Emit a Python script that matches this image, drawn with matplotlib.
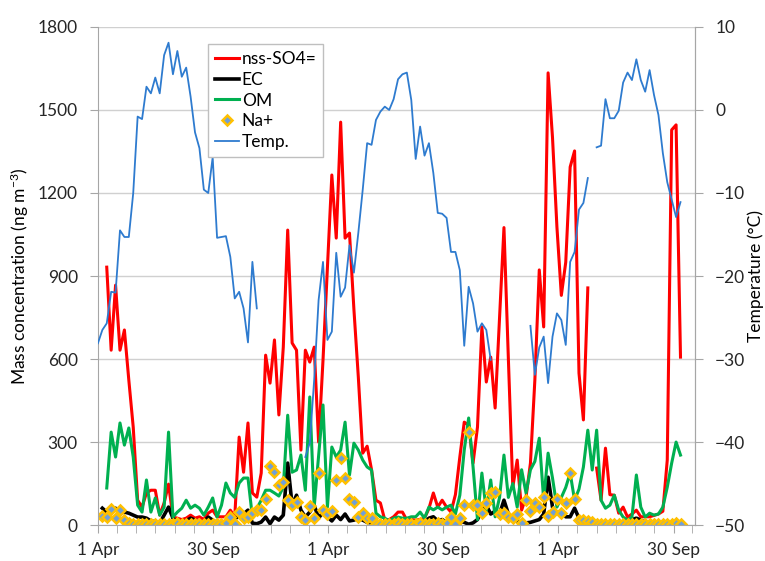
import numpy as np
import matplotlib.pyplot as plt

plt.rcParams['font.family'] = ['Lato', 'DejaVu Sans']
plt.rcParams['mathtext.fontset'] = 'custom'
plt.rcParams['mathtext.rm'] = 'Lato'
plt.rcParams['mathtext.default'] = 'regular'

nan = np.nan

# === Data: weekly samples, week 0 = 1 April of the first year ===
weeks = np.arange(133)
days = weeks * 7

so4 = ([nan, nan,
        932, 632, 867, 632, 705, 524, 354, 90, 65, 116,
        126, 126, 36, 80, 148, 29, 25, 20, 25, 36,
        25, 30, 20, 43, 54, 30, 30, 30, 54, 30,
        318, 191, 369, 116, 101, 188, 614, 513, 669, 398,
        643, 1066, 658, 632, 271, 632, 589, 643, 300, 596,
        930, 1265, 1037, 1456, 1037, 1055, 780, 535, 260, 285,
        200, 90, 80, 18, 20, 30, 47, 47, 18, 20,
        18, 20, 25, 60, 116, 65, 90, 65, 47, 110,
        246, 372, 361, 224, 354, 716, 517, 607, 423, 750,
        1075, 600, 137, 235, 54, 101, 224, 524, 922, 716,
        1634, 1400, 1077, 830, 950, 1294, 1352, 549, 380, 857,
        nan,
        206, 90, 278, 110, 108, 43, 65, 29, 40, 54,
        30, 30, 30, 35, 40, 50, 235, 1428, 1446, 607])

ec = ([nan,
       61, 47, 54, 61, 43, 47, 43, 36, 29, 29,
       25, 15, 12, 7, 36, 65, 25, 10, 10, 15,
       25, 18, 8, 12, 29, 18, 8, 10, 12, 20,
       25, 30, 40, 54, 7, 5, 11, 29, 5, 29,
       18, 36, 224, 72, 108, 54, 29, 47, 72, 25,
       47, 30, 15, 36, 20, 40, 15, 18, 25, 18,
       10, 8, 10, 5, 5, 10, 8, 5, 5, 8,
       10, 5, 8, 10, 25, 30, 15, 20, 10, 5,
       8, 15, 10, 3, 8, 20, 54, 72, 40, 50,
       40, 90, 40, 25, 15, 10, 8, 10, 15, 20,
       40, 173, 65, 45, 50, 30, 30, 61, 25, 18,
       10, 8, 5, 5, 5, 5, 8, 10, 12, 15,
       20, 25, 18, 10, 8, 5, 5, 5, 5, 5,
       5, 5])

om = ([nan, nan,
       134, 336, 246, 369, 289, 351, 246, 72, 47, 163,
       47, 98, 36, 65, 336, 29, 47, 61, 90, 61,
       72, 61, 36, 65, 98, 29, 72, 152, 116, 100,
       152, 170, 170, 29, 60, 90, 126, 126, 116, 105,
       137, 397, 191, 199, 253, 126, 463, 65, 250, 434,
       65, 282, 246, 271, 372, 181, 296, 271, 235, 210,
       199, 43, 30, 25, 15, 25, 29, 25, 25, 30,
       30, 47, 25, 65, 55, 65, 55, 65, 72, 40,
       108, 271, 387, 210, 20, 188, 50, 163, 30, 100,
       253, 100, 150, 65, 200, 116, 200, 230, 314, 90,
       260, 170, 65, 100, 136, 188, 90, 130, 210, 343,
       199, 343, 90, 61, 72, 108, 54, 29, 18, 29,
       181, 65, 29, 43, 36, 40, 65, 137, 224, 300,
       253])

na = ([nan,
       32, 29, 58, 25, 54, 18, 7, 5, 3, 3,
       5, 3, 3, 5, 3, 3, 5, 8, 5, 3,
       3, 5, 3, 3, 3, 5, 3, 5, 8, 29,
       5, 47, 25, 29, 43, 54, 54, 94, 213, 192,
       145, 155, 90, 72, 83, 29, 20, 70, 25, 190,
       54, 40, 51, 163, 242, 170, 94, 83, 29, 43,
       25, 25, 3, 3, 3, 5, 3, 8, 3, 5,
       3, 3, 8, 3, 3, 3, 8, 3, 8, 29,
       5, 25, 72, 336, 72, 72, 43, 79, 116, 119,
       40, 43, 29, 25, 40, 8, 90, 51, 79, 65,
       101, 33, 47, 94, 45, 79, 188, 94, 20, 18,
       15, 12, 3, 3, 3, 3, 3, 3, 3, 3,
       3, 3, 3, 3, 3, 3, 3, 3, 3, 3,
       8, 3])

temp = ([-28.1, -26.5, -25.7, -21.9, -22.0, -14.5, -15.3, -15.3, -10.0, -0.8,
         -1.1, 2.8, 2.0, 3.9, 2.0, 6.6, 8.1, 4.3, 7.1, 4.0,
         5.1, 1.6, -2.7, -4.6, -9.6, -10.0, -5.7, -15.4, -15.3, -15.2,
         -17.7, -22.7, -21.9, -23.9, -28.0, -18.3, -23.9]
        + [nan] * 10
        + [-41.8, -40.1, -32.5, -22.9, -18.3, -27.7, -26.7, -17.2, -22.5, -21.4,
           -16.3, -19.6, -14.8, -9.6, -4.0, -4.2, -1.2, -0.2, 0.4, 0.0,
           1.3, 3.7, 4.3, 4.5, 1.2, -5.9, -2.0, -5.5, -4.0, -7.6,
           -12.4, -12.5, -13.0, -17.1, -17.1, -19.3, -28.4, -21.3, -23.3, -26.7,
           -25.7, -26.5, -30.1]
        + [nan] * 8
        + [-26.0, -31.9, -28.6, -27.3, -32.9, -27.3, -24.5, -25.3, -28.3, -18.3,
           -17.1, -12.0, -11.2, -8.2]
        + [nan]
        + [-4.5, -4.3, 1.3, -1.0, -1.0, -0.1, 3.3, 4.5, 3.6, 6.1,
           3.6, 2.2, 4.8, 1.8, -0.6, -5.2, -8.7, -10.8, -12.9, -11.1])

tick_days = [0, 183, 365, 548, 730, 913]
tick_labels = ['1 Apr', '30 Sep', '1 Apr', '30 Sep', '1 Apr', '30 Sep']

# === Figure ===
axis_grey = '#A6A6A6'
fig = plt.figure(figsize=(7.65, 5.61), dpi=100)
ax = fig.add_axes([0.128, 0.064, 0.7805, 0.888])
ax2 = ax.twinx()

l_so4, = ax.plot(days, so4, color='#FF0000', lw=2.2, label='nss-SO4=')
l_ec, = ax.plot(days, ec, color='black', lw=2.6, label='EC')
l_om, = ax.plot(days, om, color='#00B050', lw=2.2, label='OM')
l_na, = ax.plot(days, na, ls='none', marker='D', ms=5.5, mfc='#6F9FD8',
                mec='#FFC000', mew=1.8, label='Na+')
l_t, = ax2.plot(days, temp, color='#2E7BCF', lw=1.3, label='Temp.')

ax.set_xlim(0, 947)
ax.set_ylim(0, 1800)
ax.set_yticks(np.arange(0, 1801, 300))
ax2.set_ylim(-50, 10)
ax2.set_yticks(np.arange(-50, 11, 10))

ax.set_xticks(tick_days)
ax.set_xticklabels(tick_labels)
minor = [d for d in np.arange(0, 947, 365 / 12) if min(abs(d - t) for t in tick_days) > 5]
ax.set_xticks(minor, minor=True)

ax.yaxis.grid(True, color='#D0D0D0', lw=1)
ax.set_axisbelow(True)

for a in (ax, ax2):
    a.spines['top'].set_visible(False)
    for s in ('left', 'right', 'bottom'):
        a.spines[s].set_color(axis_grey)
ax2.spines['left'].set_visible(False)
ax2.spines['bottom'].set_visible(False)

ax.tick_params(axis='both', which='both', length=5.5, color=axis_grey,
               labelsize=12.5, colors='#262626')
ax.tick_params(axis='y', pad=9)
ax.tick_params(axis='x', which='both', pad=7, color=axis_grey)
ax2.tick_params(axis='y', length=5.5, color=axis_grey, labelsize=12.5,
                pad=9, labelcolor='#262626')

ax.set_ylabel('Mass concentration (ng m$^{-3}$)', fontsize=12.5, va='center')
ax.yaxis.set_label_coords(-0.131, 0.5)
ax2.set_ylabel('Temperature (°C)', fontsize=12.5, va='center', rotation=90)
ax2.yaxis.set_label_coords(1.1025, 0.5)

leg = ax2.legend(handles=[l_so4, l_ec, l_om, l_na, l_t], loc='upper left',
                 bbox_to_anchor=(0.184, 0.966), borderaxespad=0, fontsize=12.5,
                 fancybox=False, edgecolor='#BFBFBF', framealpha=1,
                 handlelength=1.4, handletextpad=0.15, labelspacing=0.28,
                 borderpad=0.4)
leg.get_frame().set_linewidth(1)

fig.savefig('out.png', dpi=100)
